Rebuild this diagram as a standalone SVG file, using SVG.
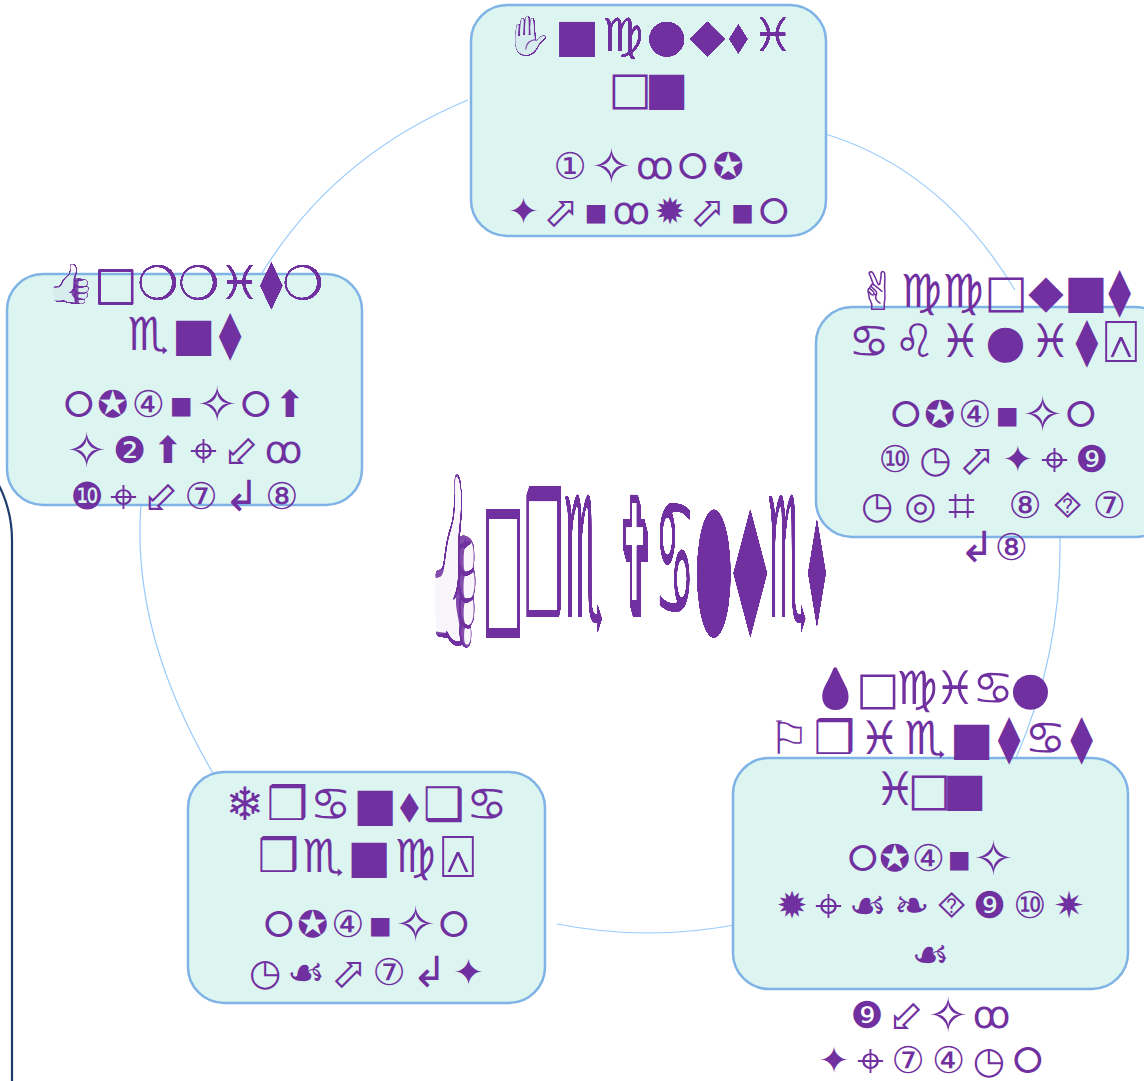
<svg xmlns="http://www.w3.org/2000/svg" width="1144" height="1081" viewBox="0 0 1144 1081">
<defs>
<filter id="lum" x="-10%" y="-10%" width="120%" height="120%" color-interpolation-filters="sRGB">
<feColorMatrix type="matrix" values="0 0 0 0 0.439  0 0 0 0 0.188  0 0 0 0 0.627  0 -6 0 4.8 0"/>
</filter>
<filter id="sil" x="-10%" y="-10%" width="120%" height="120%" color-interpolation-filters="sRGB">
<feColorMatrix type="matrix" values="0 0 0 0 0.439  0 0 0 0 0.188  0 0 0 0 0.627  0 0 0 1 0"/>
</filter>
</defs>
<style>
.node{fill:#dcf5f1;stroke:#7fb3e5;stroke-width:2.5}
.conn{fill:none;stroke:#99cbfb;stroke-width:1.2}
text{font-family:"DejaVu Sans","Noto Sans",sans-serif;fill:#7030a0;text-anchor:middle;dominant-baseline:central}
tspan{dominant-baseline:central}
.t{font-size:46px}
.s{font-size:37px}
.c{font-size:168px;text-anchor:start}
.b{font-size:1.3em}
.m{font-size:1.15em}
.e{font-size:0.85em}
</style>
<rect width="1144" height="1081" fill="#ffffff"/>
<path d="M -109,419 A 121,121 0 0 1 12,540 L 12,1090" fill="none" stroke="#1c3c6c" stroke-width="2.2"/>
<g id="connectors">
<path class="conn" d="M 468,100 Q 335,155 262,273"/>
<path class="conn" d="M 822,133 Q 941,168 1015,290"/>
<path class="conn" d="M 1060,537 Q 1062,652 1016,758"/>
<path class="conn" d="M 740,924 Q 648,942 557,924"/>
<path class="conn" d="M 141,505 Q 131,637 217,780"/>
</g>
<g id="center">
<text class="c" x="427" y="559" textLength="400" lengthAdjust="spacingAndGlyphs" filter="url(#lum)">👍□❒♏ ✞♋●◆♏⬧</text>
</g>
<g id="node-top">
<rect class="node" x="471" y="5" width="355" height="231" rx="36"/>
<text class="t" x="648.5" y="35" textLength="290" filter="url(#lum)"><tspan class="e">✋</tspan>■♍●◆⬧♓</text>
<text class="t" x="648.5" y="88" textLength="80">□■</text>
<text class="s" x="648.5" y="166" textLength="190">①<tspan class="b">✧</tspan>ꝏ⭘✪</text>
<text class="s" x="648.5" y="211" textLength="281">✦<tspan class="m">⬀</tspan>▪ꝏ✹<tspan class="m">⬀</tspan>▪⭘</text>
</g>
<g id="node-left">
<rect class="node" x="7" y="274" width="355" height="231" rx="36"/>
<text class="t" x="184.5" y="283" textLength="278" filter="url(#lum)"><tspan class="e">👍</tspan>□❍❍♓⧫❍</text>
<text class="t" x="184.5" y="334" textLength="114">♏■⧫</text>
<text class="s" x="184.5" y="404" textLength="242">⭘✪④▪<tspan class="b">✧</tspan>⭘⬆</text>
<text class="s" x="184.5" y="450" textLength="236"><tspan class="b">✧</tspan>❷⬆<tspan class="b">⌖</tspan><tspan class="m">⬃</tspan>ꝏ</text>
<text class="s" x="184.5" y="496" textLength="228">❿<tspan class="b">⌖</tspan><tspan class="m">⬃</tspan>⑦<tspan class="m">↲</tspan>⑧</text>
</g>
<g id="node-right">
<rect class="node" x="816" y="307" width="355" height="230" rx="36"/>
<text class="t" x="993.5" y="291" textLength="275"><tspan class="m">✌</tspan>♍♍□◆■⧫</text>
<text class="t" x="993.5" y="341" textLength="290">♋♌♓●♓⧫<tspan class="b">⍓</tspan></text>
<text class="s" x="993.5" y="414" textLength="205">⭘✪④▪<tspan class="b">✧</tspan>⭘</text>
<text class="s" x="993.5" y="459" textLength="230">⑩◷<tspan class="m">⬀</tspan>✦<tspan class="b">⌖</tspan>❾</text>
<text class="s" x="993.5" y="505" textLength="265">◷◎<tspan class="b">⌗</tspan> ⑧⯑⑦</text>
<text class="s" x="993.5" y="547" textLength="69"><tspan class="m">↲</tspan>⑧</text>
</g>
<g id="node-bottom-right">
<rect class="node" x="733" y="758" width="395" height="231" rx="36"/>
<text class="t" x="930.5" y="688" textLength="240" filter="url(#sil)"><tspan class="e">💧</tspan>□♍♓♋●</text>
<text class="t" x="930.5" y="738" textLength="325">⚐❒♓♏■⧫♋⧫</text>
<text class="t" x="930.5" y="789" textLength="112">♓□■</text>
<text class="s" x="930.5" y="858" textLength="166">⭘✪④▪<tspan class="b">✧</tspan></text>
<text class="s" x="930.5" y="905" textLength="308">✹<tspan class="b">⌖</tspan><tspan class="m">☙❧</tspan>⯑❾⑩✷</text>
<text class="s" x="930.5" y="954"><tspan class="m">☙</tspan></text>
<text class="s" x="930.5" y="1015" textLength="160">❾<tspan class="m">⬃</tspan><tspan class="b">✧</tspan>ꝏ</text>
<text class="s" x="930.5" y="1060" textLength="224">✦<tspan class="b">⌖</tspan>⑦④◷⭘</text>
</g>
<g id="node-bottom-left">
<rect class="node" x="188" y="772" width="357" height="231" rx="36"/>
<text class="t" x="366.5" y="804" textLength="282">❄❒♋■⬧❑♋</text>
<text class="t" x="366.5" y="856" textLength="218">❒♏■♍<tspan class="b">⍓</tspan></text>
<text class="s" x="366.5" y="924" textLength="205">⭘✪④▪<tspan class="b">✧</tspan>⭘</text>
<text class="s" x="366.5" y="972" textLength="235">◷<tspan class="m">☙</tspan><tspan class="m">⬀</tspan>⑦<tspan class="m">↲</tspan>✦</text>
</g>
</svg>
